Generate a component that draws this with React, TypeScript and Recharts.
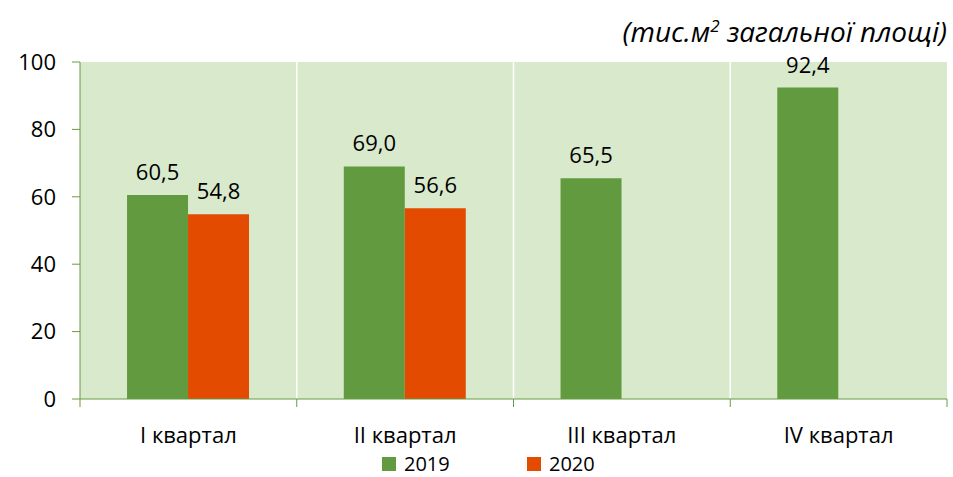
import React from 'react';
import {
  BarChart,
  Bar,
  XAxis,
  YAxis,
  CartesianGrid,
  Legend,
  LabelList,
} from 'recharts';

const quarters = ['I квартал', 'II квартал', 'III квартал', 'IV квартал'];
const values2019 = [60.5, 69.0, 65.5, 92.4];
const values2020: (number | null)[] = [54.8, 56.6, null, null];
const yTicks = [0, 20, 40, 60, 80, 100];

const data = quarters.map((q, i) => ({ name: q, y2019: values2019[i], y2020: values2020[i] }));

const GREEN = '#629B3F';
const ORANGE = '#E24B00';
const AXIS = '#6A9A45';
const FONT = '"Open Sans", sans-serif';
const FS = 22;

const fmt = (v: any) => (v == null ? '' : Number(v).toFixed(1).replace('.', ','));

// category label plus tick marks at category boundaries (like Excel)
const QuarterTick = (props: any) => {
  const { x, y, payload, width, visibleTicksCount, index } = props;
  const cw = width / visibleTicksCount;
  const axisY = y - 8;
  return (
    <g>
      <line x1={x - cw / 2} x2={x - cw / 2} y1={axisY} y2={axisY + 8} stroke={AXIS} />
      {index === visibleTicksCount - 1 && (
        <line x1={x + cw / 2} x2={x + cw / 2} y1={axisY} y2={axisY + 8} stroke={AXIS} />
      )}
      <text x={x} y={axisY + 44} textAnchor="middle" fontSize={FS} fill="#000" fontFamily={FONT}>
        {payload.value}
      </text>
    </g>
  );
};

const LegendContent = ({ payload }: any) => (
  <div style={{ display: 'flex', height: 27, fontFamily: FONT, fontSize: 20, lineHeight: '27px', color: '#000' }}>
    {(payload || []).map((p: any) => (
      <div key={p.value} style={{ display: 'flex', alignItems: 'center', width: 145 }}>
        <span style={{ width: 14, height: 14, background: p.color, display: 'inline-block', marginRight: 8 }} />
        {p.value}
      </div>
    ))}
  </div>
);

export default function App() {
  return (
    <div style={{ position: 'absolute', left: 0, top: 0, width: 953, height: 477, background: '#fff' }}>
      <div
        style={{
          position: 'absolute',
          right: 6,
          top: 6,
          fontFamily: FONT,
          fontStyle: 'italic',
          fontSize: 28,
          lineHeight: '40px',
          color: '#000',
          zIndex: 2,
          whiteSpace: 'nowrap',
        }}
      >
        (тис.м<sup style={{ fontSize: 17 }}>2</sup> загальної площі)
      </div>
      <BarChart
        width={953}
        height={477}
        data={data}
        margin={{ top: 62, right: 6, left: 0, bottom: 0 }}
        barCategoryGap="21.7%"
        barGap={0}
      >
        <CartesianGrid
          fill="#D9E9CC"
          stroke="#ffffff"
          strokeWidth={1.5}
          horizontal={false}
          verticalCoordinatesGenerator={({ offset }: any) =>
            quarters.slice(1).map((_, i) => offset.left + ((i + 1) * offset.width) / quarters.length)
          }
        />
        <XAxis
          dataKey="name"
          axisLine={{ stroke: AXIS }}
          tickLine={false}
          tickSize={8}
          tickMargin={0}
          height={51}
          interval={0}
          tick={<QuarterTick />}
        />
        <YAxis
          domain={[0, 100]}
          ticks={yTicks}
          width={80}
          axisLine={{ stroke: AXIS }}
          tickLine={{ stroke: AXIS }}
          tickSize={8}
          tickMargin={16}
          tick={{ fontSize: FS, fill: '#000', fontFamily: FONT }}
        />
        <Legend
          verticalAlign="bottom"
          content={<LegendContent />}
          wrapperStyle={{ position: 'absolute', left: 382, top: 450, width: 'auto' }}
        />
        <Bar dataKey="y2019" name="2019" fill={GREEN} isAnimationActive={false}>
          <LabelList dataKey="y2019" position="top" offset={15} formatter={fmt} fontSize={FS} fill="#000" fontFamily={FONT} />
        </Bar>
        <Bar dataKey="y2020" name="2020" fill={ORANGE} isAnimationActive={false}>
          <LabelList dataKey="y2020" position="top" offset={15} formatter={fmt} fontSize={FS} fill="#000" fontFamily={FONT} />
        </Bar>
      </BarChart>
    </div>
  );
}
